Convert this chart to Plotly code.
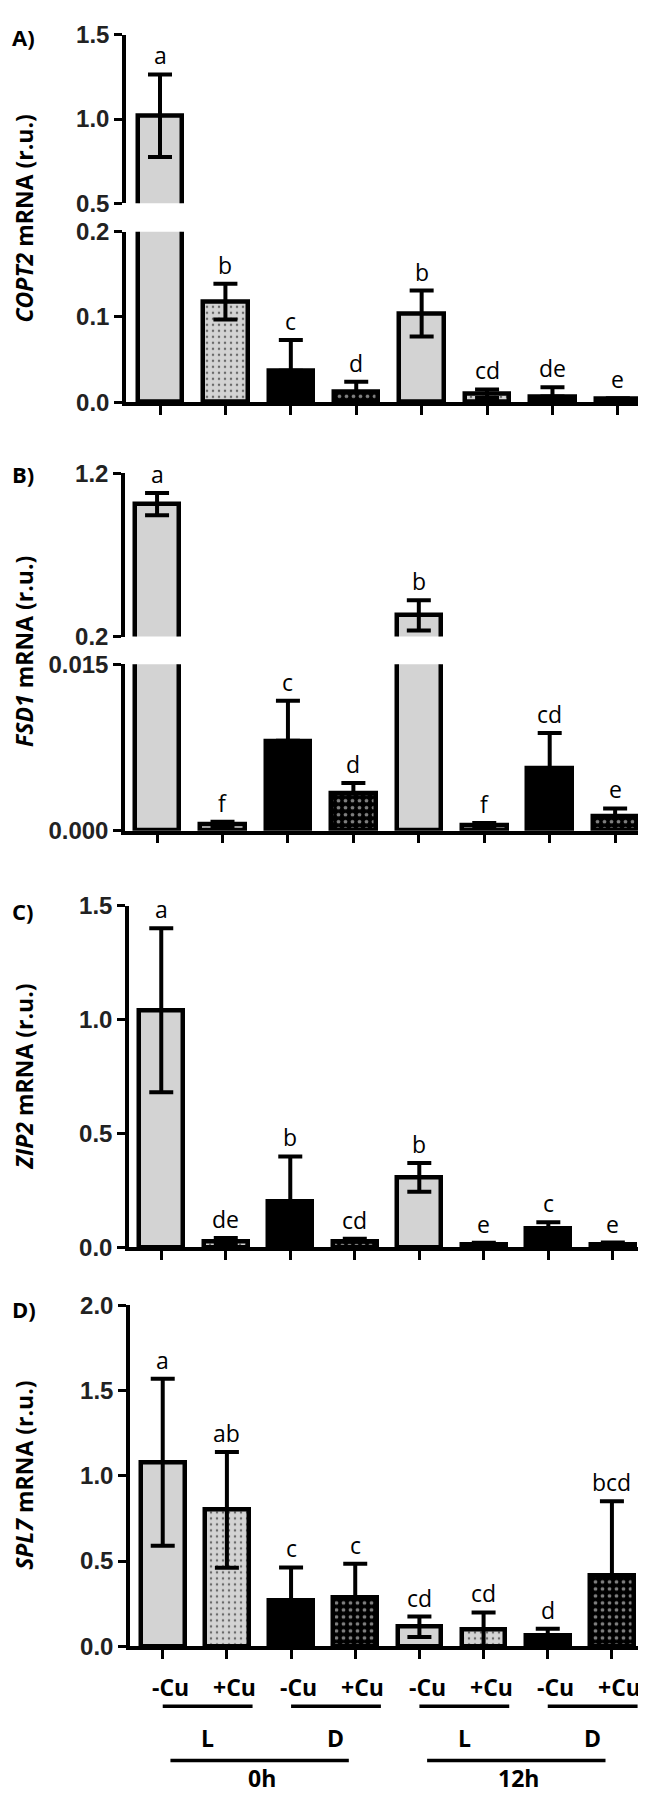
import plotly.graph_objects as go

W, H = 646, 1796

# ---------------- data ----------------
categories = ["-Cu L 0h", "+Cu L 0h", "-Cu D 0h", "+Cu D 0h",
              "-Cu L 12h", "+Cu L 12h", "-Cu D 12h", "+Cu D 12h"]
cu_labels = ["-Cu", "+Cu", "-Cu", "+Cu", "-Cu", "+Cu", "-Cu", "+Cu"]
light_labels = ["L", "D", "L", "D"]
time_labels = ["0h", "12h"]

copt2 = [1.02, 0.118, 0.037, 0.012, 0.104, 0.010, 0.0066, 0.0035]
copt2_err = [0.245, 0.021, 0.036, 0.012, 0.027, 0.005, 0.011, 0.001]
copt2_letters = ["a", "b", "c", "d", "b", "cd", "de", "e"]

fsd1 = [1.01, 0.0006, 0.0081, 0.0034, 0.33, 0.0005, 0.0056, 0.0013]
fsd1_err = [0.068, 0.0002, 0.0036, 0.0009, 0.093, 0.0002, 0.0032, 0.0007]
fsd1_letters = ["a", "f", "c", "d", "b", "f", "cd", "e"]

zip2 = [1.04, 0.026, 0.199, 0.025, 0.307, 0.013, 0.082, 0.013]
zip2_err = [0.36, 0.015, 0.20, 0.013, 0.063, 0.007, 0.028, 0.008]
zip2_letters = ["a", "de", "b", "cd", "b", "e", "c", "e"]

spl7 = [1.08, 0.80, 0.268, 0.286, 0.114, 0.099, 0.066, 0.413]
spl7_err = [0.49, 0.34, 0.194, 0.198, 0.06, 0.099, 0.037, 0.438]
spl7_letters = ["a", "ab", "c", "c", "cd", "cd", "d", "bcd"]

# ---------------- layout helpers ----------------
def py(p):
    return 1 - p / H

def pxp(p):
    return p / W

panels = [
    dict(gene="COPT2", vals=copt2, errs=copt2_err, letters=copt2_letters, tag="A)",
         xdom=(118, 638), xrange=[-0.52, 7.43], tagy=15,
         segs=[dict(rng=[0, 0.2], dom=(213, 386), ticks=[0, 0.1, 0.2], fmt=".1f"),
               dict(rng=[0.5, 1.5], dom=(13, 184), ticks=[0.5, 1.0, 1.5], fmt=".1f")]),
    dict(gene="FSD1", vals=fsd1, errs=fsd1_err, letters=fsd1_letters, tag="B)",
         xdom=(117, 632), xrange=[-0.49, 7.38], tagy=459,
         segs=[dict(rng=[0, 0.015], dom=(652, 821), ticks=[0, 0.015], fmt=".3f"),
               dict(rng=[0.2, 1.2], dom=(458, 624), ticks=[0.2, 1.2], fmt=".1f")]),
    dict(gene="ZIP2", vals=zip2, errs=zip2_err, letters=zip2_letters, tag="C)",
         xdom=(121, 630), xrange=[-0.50, 7.39], tagy=903,
         segs=[dict(rng=[0, 1.5], dom=(897, 1244), ticks=[0, 0.5, 1.0, 1.5], fmt=".1f")]),
    dict(gene="SPL7", vals=spl7, errs=spl7_err, letters=spl7_letters, tag="D)",
         xdom=(122, 636), xrange=[-0.51, 7.5], tagy=1307,
         segs=[dict(rng=[0, 2.0], dom=(1303, 1649), ticks=[0, 0.5, 1.0, 1.5, 2.0], fmt=".1f")]),
]

LW = 4.5
styles = [
    dict(marker=dict(color="#d3d3d3", line=dict(color="black", width=LW))),
    dict(marker=dict(color="#d3d3d3", line=dict(color="black", width=LW),
                     pattern=dict(shape=".", bgcolor="#d3d3d3", fgcolor="black",
                                  size=6, solidity=0.14))),
    dict(marker=dict(color="black", line=dict(color="black", width=LW))),
    dict(marker=dict(color="black", line=dict(color="black", width=LW),
                     pattern=dict(shape=".", bgcolor="black", fgcolor="white",
                                  size=7, solidity=0.22))),
]
dark = [False, False, True, True]

fig = go.Figure()
annotations = []
shapes = []
layout = {}
ax_n = 0
last_x = None

for p in panels:
    lower_max = p["segs"][0]["rng"][1]
    seg_ids = []
    for k, seg in enumerate(p["segs"]):
        ax_n += 1
        xs = "" if ax_n == 1 else str(ax_n)
        seg_ids.append(xs)
        xa = dict(domain=[pxp(p["xdom"][0]), pxp(p["xdom"][1])], range=p["xrange"],
                  anchor="y" + xs, showgrid=False, zeroline=False,
                  tickmode="array", tickvals=list(range(8)), showticklabels=False)
        if k == 0:
            xa.update(showline=True, linecolor="black", linewidth=3.5,
                      ticks="outside", ticklen=9, tickwidth=3, tickcolor="black")
        else:
            xa.update(showline=False, ticks="", visible=False)
        ya = dict(domain=[py(seg["dom"][1]), py(seg["dom"][0])], range=seg["rng"],
                  anchor="x" + xs, showgrid=False, zeroline=False,
                  showline=True, linecolor="black", linewidth=3.5,
                  ticks="outside", ticklen=8, tickwidth=3, tickcolor="black",
                  tickmode="array", tickvals=seg["ticks"], tickformat=seg["fmt"],
                  tickfont=dict(family="Liberation Sans", size=24, color="#222",
                                weight="bold"))
        layout["xaxis" + xs] = xa
        layout["yaxis" + xs] = ya

        for s in range(4):
            idx = [s, s + 4]
            ys, ep, em = [], [], []
            for i in idx:
                v, e = p["vals"][i], p["errs"][i]
                if k == 0:
                    ys.append(v)
                    inside = v + e <= seg["rng"][1] * 1.5
                else:
                    ys.append(v if v > seg["rng"][0] else None)
                    inside = v > seg["rng"][0]
                ep.append(e if inside else None)
                em.append((0 if dark[s] else e) if inside else None)
            fig.add_trace(go.Bar(
                x=idx, y=ys, width=0.68, xaxis="x" + xs, yaxis="y" + xs,
                showlegend=False, **styles[s],
                error_y=dict(type="data", array=ep, arrayminus=em, symmetric=False,
                             color="black", thickness=4, width=12),
            ))
    # significance letters
    for i, (v, e, lt) in enumerate(zip(p["vals"], p["errs"], p["letters"])):
        top = v + e
        xs = seg_ids[0]
        if len(seg_ids) > 1 and top > lower_max:
            xs = seg_ids[1]
        annotations.append(dict(x=i, y=top, xref="x" + xs, yref="y" + xs,
                                text=lt, showarrow=False, yanchor="bottom",
                                yshift=1,
                                font=dict(family="Open Sans", size=23, color="black")))
    # y-axis title
    top_px = min(s_["dom"][0] for s_ in p["segs"])
    bot_px = max(s_["dom"][1] for s_ in p["segs"])
    annotations.append(dict(x=pxp(16), y=py((top_px + bot_px) / 2), xref="paper", yref="paper",
                            text="<b><i>%s</i> mRNA (r.u.)</b>" % p["gene"],
                            textangle=-90, showarrow=False, xanchor="center", yanchor="middle",
                            font=dict(family="Open Sans", size=23, color="black")))
    annotations.append(dict(x=pxp(2), y=py(p["tagy"]), xref="paper", yref="paper",
                            text="<b>%s</b>" % p["tag"], showarrow=False,
                            xanchor="left", yanchor="middle",
                            font=dict(family="Open Sans", size=22, color="black")))
    last_x = seg_ids[0]

# ---------------- grouping labels under the bottom panel ----------------
xr = "x" + last_x
lab_font = dict(family="Open Sans", size=23, color="black")
for i, t in enumerate(cu_labels):
    annotations.append(dict(x=i + 0.12, y=py(1690), xref=xr, yref="paper", text="<b>%s</b>" % t,
                            showarrow=False, xanchor="center", yanchor="middle", font=lab_font))
for g, t in enumerate(light_labels):
    x0, x1 = 2 * g + 0.0, 2 * g + 1.4
    shapes.append(dict(type="line", xref=xr, yref="paper", x0=x0, x1=x1,
                       y0=py(1710), y1=py(1710), line=dict(color="black", width=3.5)))
    annotations.append(dict(x=2 * g + 0.7, y=py(1742), xref=xr, yref="paper", text="<b>%s</b>" % t,
                            showarrow=False, xanchor="center", yanchor="middle", font=lab_font))
for h, t in enumerate(time_labels):
    x0, x1 = 4 * h + 0.12, 4 * h + 2.9
    shapes.append(dict(type="line", xref=xr, yref="paper", x0=x0, x1=x1,
                       y0=py(1765), y1=py(1765), line=dict(color="black", width=3.5)))
    annotations.append(dict(x=4 * h + 1.55, y=py(1783), xref=xr, yref="paper", text="<b>%s</b>" % t,
                            showarrow=False, xanchor="center", yanchor="middle", font=lab_font))

fig.update_layout(width=W, height=H, margin=dict(l=0, r=0, t=0, b=0),
                  paper_bgcolor="white", plot_bgcolor="rgba(0,0,0,0)",
                  barmode="overlay", bargap=0, annotations=annotations, shapes=shapes,
                  **layout)

fig.write_html("out.html")
